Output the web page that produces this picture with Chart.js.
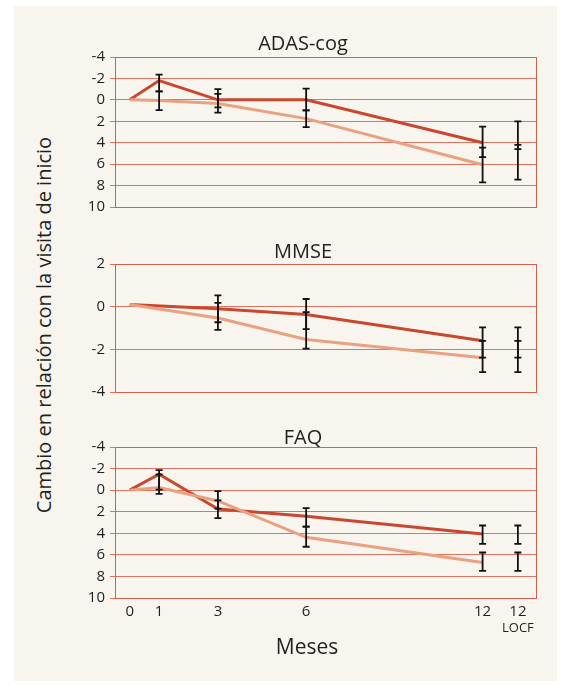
<!DOCTYPE html>
<html>
<head>
<meta charset="utf-8">
<script src="https://cdn.jsdelivr.net/npm/chart.js@4.4.1/dist/chart.umd.min.js"></script>
<style>
  html, body { margin: 0; padding: 0; background: #fff; }
  body { width: 565px; height: 686px; position: relative; overflow: hidden; font-family: "Open Sans", sans-serif; color: #231f20; }
  .panel { position: absolute; left: 14px; top: 6px; width: 543px; height: 675px; background: #f8f5ef; }
  .box { position: absolute; left: 69px; }
  .ytitle { position: absolute; left: 44px; top: 325px; transform: translate(-50%, -50%) rotate(-90deg); font-size: 20px; line-height: 1; white-space: nowrap; }
  .xtitle { position: absolute; left: 307px; top: 646px; transform: translate(-50%, -50%); font-size: 21px; line-height: 1; }
</style>
</head>
<body>
<div class="panel"></div>
<div class="ytitle">Cambio en relación con la visita de inicio</div>
<div class="box" style="top:34px"><canvas id="c1" width="488" height="187"></canvas></div>
<div class="box" style="top:242px"><canvas id="c2" width="488" height="164"></canvas></div>
<div class="box" style="top:429px"><canvas id="c3" width="488" height="211"></canvas></div>
<div class="xtitle">Meses</div>

<script>
const months = [0, 1, 3, 6, 12];
const locfAt = 13.2;
const barMonths = [1, 3, 6, 12, locfAt];
const xTickValues = [0, 1, 3, 6, 12, locfAt];
const xTickLabels = ["0", "1", "3", "6", "12", "12"];

// ADAS-cog (axis reversed)
const adasDark = [0, -1.8, 0, 0, 4.0];
const adasLight = [0, 0.05, 0.35, 1.75, 6.05];
const adasDarkLo = [-2.35, -1.0, -1.05, 2.5, 2.0];
const adasDarkHi = [-0.8, 0.7, 0.98, 5.35, 4.6];
const adasLightLo = [-0.8, -0.55, 0.98, 4.45, 4.2];
const adasLightHi = [0.95, 1.2, 2.55, 7.7, 7.45];

// MMSE (no visit at month 1)
const mmseDark = [0.1, null, -0.1, -0.37, -1.6];
const mmseLight = [0.1, null, -0.53, -1.54, -2.39];
const mmseDarkLo = [null, -0.73, -1.05, -2.39, -2.39];
const mmseDarkHi = [null, 0.53, 0.36, -0.97, -0.97];
const mmseLightLo = [null, -1.09, -1.97, -3.07, -3.07];
const mmseLightHi = [null, 0.18, -0.26, -1.6, -1.6];

// FAQ (axis reversed)
const faqDark = [0, -1.47, 1.75, 2.41, 4.06];
const faqLight = [0, -0.25, 1.0, 4.37, 6.71];
const faqDarkLo = [-1.85, 0.94, 1.67, 3.28, 3.28];
const faqDarkHi = [-0.05, 2.6, 3.38, 4.99, 4.99];
const faqLightLo = [-1.45, 0.1, 3.38, 5.78, 5.78];
const faqLightHi = [0.35, 1.72, 5.25, 7.49, 7.49];

const cogRange = [-4, 10];
const mmseRange = [-4, 2];
const yStep = 2;

const darkRed = "#c9472f";
const salmon = "#e9a180";
const gridColor = "#df735f";
const frameColor = "#d65f49";
const textColor = "#231f20";
const font = "'Open Sans', sans-serif";

const framePlugin = {
  id: "frame",
  beforeDatasetsDraw(chart) {
    const { ctx, chartArea: a } = chart;
    ctx.save();
    ctx.strokeStyle = frameColor;
    ctx.lineWidth = 1;
    ctx.strokeRect(Math.round(a.left) + 0.5, Math.round(a.top) + 0.5, Math.round(a.right - a.left) - 1, Math.round(a.bottom - a.top));
    ctx.restore();
  },
};

const errorBarPlugin = {
  id: "errbars",
  afterDatasetsDraw(chart, args, opts) {
    const sets = opts.sets || [];
    const { ctx } = chart;
    const xs = chart.scales.x;
    const ys = chart.scales.y;
    ctx.save();
    ctx.strokeStyle = "#111";
    ctx.lineWidth = 1.8;
    sets.forEach((s) => {
      s.lo.forEach((lo, i) => {
        if (lo == null) return;
        const px = xs.getPixelForValue(barMonths[i]);
        const y1 = ys.getPixelForValue(lo);
        const y2 = ys.getPixelForValue(s.hi[i]);
        ctx.beginPath();
        ctx.moveTo(px, y1);
        ctx.lineTo(px, y2);
        ctx.moveTo(px - 3.5, y1);
        ctx.lineTo(px + 3.5, y1);
        ctx.moveTo(px - 3.5, y2);
        ctx.lineTo(px + 3.5, y2);
        ctx.stroke();
      });
    });
    ctx.restore();
  },
};

const locfPlugin = {
  id: "locf",
  afterDraw(chart, args, opts) {
    if (!opts.text) return;
    const xs = chart.scales.x;
    const ctx = chart.ctx;
    ctx.save();
    ctx.font = "13px " + font;
    ctx.fillStyle = textColor;
    ctx.textAlign = "center";
    ctx.textBaseline = "middle";
    ctx.fillText(opts.text, xs.getPixelForValue(locfAt), xs.bottom + 2);
    ctx.restore();
  },
};

function points(vals) {
  return months.map((m, i) => ({ x: m, y: vals[i] }));
}

function makeChart(id, title, titleLH, titlePad, range, reverse, light, dark, bars, showX, padBottom) {
  new Chart(document.getElementById(id), {
    type: "line",
    data: {
      datasets: [
        { data: points(light), borderColor: salmon, borderWidth: 3, pointRadius: 0, tension: 0, spanGaps: true },
        { data: points(dark), borderColor: darkRed, borderWidth: 3, pointRadius: 0, tension: 0, spanGaps: true },
      ],
    },
    options: {
      responsive: false,
      animation: false,
      layout: { padding: { left: 0, right: 20, top: 0, bottom: padBottom } },
      plugins: {
        legend: { display: false },
        tooltip: { enabled: false },
        title: {
          display: true,
          text: title,
          color: textColor,
          font: { family: font, size: 20, weight: "normal", lineHeight: titleLH },
          padding: { top: 0, bottom: titlePad },
        },
        errbars: { sets: bars },
        locf: { text: showX ? "LOCF" : "" },
      },
      scales: {
        x: {
          type: "linear",
          min: -0.5,
          max: 13.85,
          display: showX,
          grid: { display: false, drawTicks: false },
          border: { display: false },
          afterBuildTicks: (axis) => {
            axis.ticks = xTickValues.map((v) => ({ value: v }));
          },
          ticks: {
            autoSkip: false,
            maxRotation: 0,
            padding: 5,
            color: textColor,
            font: { family: font, size: 15 },
            callback: (v, i) => xTickLabels[i],
          },
        },
        y: {
          min: range[0],
          max: range[1],
          reverse: reverse,
          afterFit: (s) => {
            s.width = 46;
          },
          grid: { color: gridColor, lineWidth: 1, tickLength: 5, drawTicks: true },
          border: { display: false },
          ticks: { stepSize: yStep, autoSkip: false, padding: 5, color: textColor, font: { family: font, size: 15 } },
        },
      },
    },
    plugins: [framePlugin, errorBarPlugin, locfPlugin],
  });
}

makeChart("c1", "ADAS-cog", 1, 3, cogRange, true, adasLight, adasDark,
  [{ lo: adasDarkLo, hi: adasDarkHi }, { lo: adasLightLo, hi: adasLightHi }], false, 0);
makeChart("c2", "MMSE", 1, 2, mmseRange, false, mmseLight, mmseDark,
  [{ lo: mmseDarkLo, hi: mmseDarkHi }, { lo: mmseLightLo, hi: mmseLightHi }], false, 0);
makeChart("c3", "FAQ", 0.9, 0, cogRange, true, faqLight, faqDark,
  [{ lo: faqDarkLo, hi: faqDarkHi }, { lo: faqLightLo, hi: faqLightHi }], true, 14);
</script>
</body>
</html>
